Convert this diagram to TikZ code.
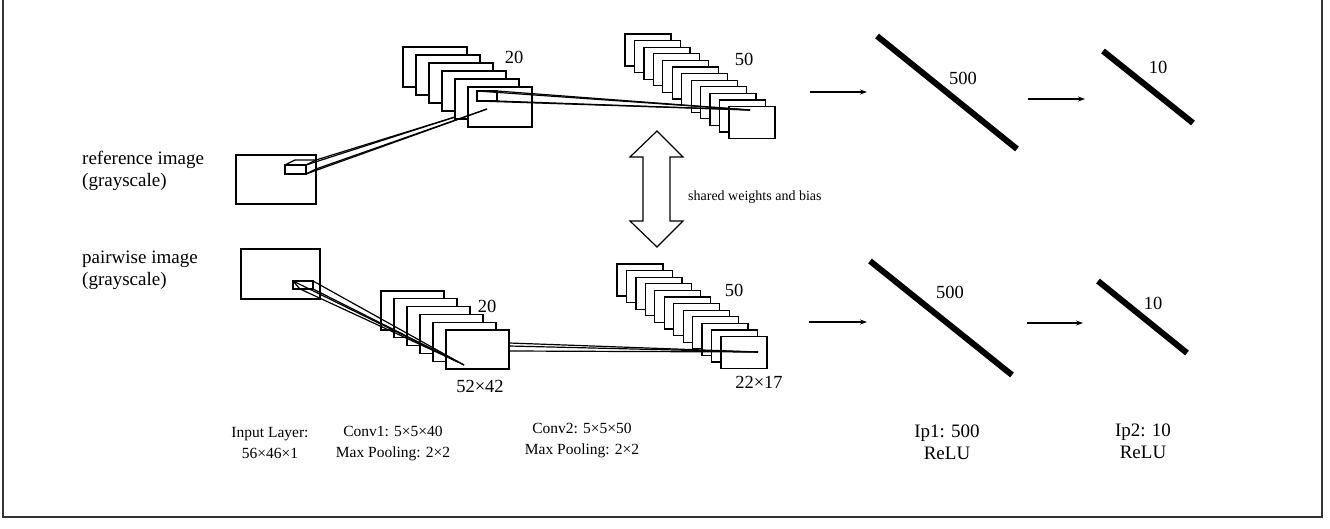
\documentclass[tikz,border=0pt]{standalone}
\usepackage{fontspec}
\setmainfont{Liberation Serif}
\usetikzlibrary{arrows.meta}
\begin{document}
\begin{tikzpicture}[x=1pt,y=-1pt,
  thin line/.style={line width=1.2pt,black},
  fmap/.style={thin line,fill=white},
  fc/.style={line width=6pt,black},
  flow/.style={line width=1.1pt,-{Stealth[length=7pt,width=5pt]}},
  lbl/.style={font=\fontsize{15.5}{21}\selectfont,inner sep=0pt,align=center},
  big/.style={lbl,font=\fontsize{19}{22}\selectfont},
  num/.style={lbl,font=\fontsize{18.5}{22}\selectfont},
  frame/.style={line width=1.4pt,black!80}]
\useasboundingbox (0,0) rectangle (1330,529);
\draw[frame] (3,0) -- (3,517) -- (1322,517) -- (1322,0);

% ---------------- upper branch ----------------
\node[big,align=left,anchor=west] (reftxt) at (82,171) {reference image\\(grayscale)};
\draw[thin line] (236,155) rectangle (316,204);
% receptive field box in the input
\coordinate (ra) at (285,165); \coordinate (rb) at (306,174);
\draw[thin line] (ra) rectangle (rb);
\draw[thin line] (295,160) -- (316,160) -- (316,169) -- (306,174);
\draw[thin line] (285,165) -- (295,160); \draw[thin line] (306,165) -- (316,160);
% conv1 maps
\foreach \i in {0,...,5}
  \draw[fmap] ({403+13*\i},{47+8*\i}) rectangle ++(64,40);
\node[num] (c1n) at (514,57) {20};
\coordinate (c1t) at (455,117);
\coordinate (c1u) at (487,109);
\draw[thin line] (306,165) -- (c1t);
\draw[thin line] (316,160) -- (c1t);
\draw[thin line] (306,174) -- (c1u);
\draw[thin line] (316,169) -- (c1u);
% patch on first conv1 map
\draw[thin line] (477,91) rectangle (497,101);
% conv2 maps
\foreach \i in {0,...,11}
  \draw[fmap] ({625+9.45*\i},{34+6.6*\i}) rectangle ++(46,32);
\node[num] (c2n) at (744,59) {50};
\coordinate (c2t) at (750,110);
\draw[thin line] (477,91) -- (c2t);
\draw[thin line] (497,91) -- (c2t);
\draw[thin line] (477,101) -- (c2t);
\draw[thin line] (497,101) -- (c2t);
% fully connected layers
\draw[flow] (810,92) -- (867,92);
\draw[fc] (877,36) -- (1017,149);
\node[num] (f1t) at (963,78) {500};
\draw[flow] (1028,99) -- (1085,99);
\draw[fc] (1103,51) -- (1193,123);
\node[num] (f2t) at (1158,67) {10};

% ---------------- shared weights ----------------
\draw[thin line,fill=white] (657,131) -- (683,157) -- (670,157) -- (670,221) -- (683,221)
  -- (657,247) -- (630,221) -- (643,221) -- (643,157) -- (630,157) -- cycle;
\node[lbl,font=\fontsize{14}{18}\selectfont,anchor=west] (shared) at (688,197) {shared weights and bias};

% ---------------- lower branch ----------------
\node[big,align=left,anchor=west] (pairtxt) at (82,270) {pairwise image\\(grayscale)};
\draw[thin line] (241,249) rectangle (320,299);
\draw[thin line] (293,281) rectangle (313,289);
\draw[thin line] (293,281) -- (300,289);
\foreach \i in {0,...,5}
  \draw[fmap] ({381+13*\i},{291+7.8*\i}) rectangle ++(63,39);
\node[num] (c1bn) at (487,306) {20};
\node[num] (c1bs) at (480,386) {52×42};
\coordinate (c1b) at (464,365);
\coordinate (c1c) at (458,362);
\draw[thin line] (313,281) -- (c1b);
\draw[thin line] (313,289) -- (c1b);
\draw[thin line] (300,289) -- (c1c);
\draw[thin line] (293,281) -- (c1c);
\foreach \i in {0,...,11}
  \draw[fmap] ({617+9.45*\i},{264+6.6*\i}) rectangle ++(46,32);
\node[num] (c2bn) at (734,290) {50};
\node[num] (c2bs) at (759,382) {22×17};
\coordinate (c2b) at (758,352);
\draw[thin line] (509,343) -- (c2b);
\draw[thin line] (509,346) -- (c2b);
\draw[thin line] (509,351) -- (c2b);
\draw[flow] (809,322) -- (867,322);
\draw[fc] (870,261) -- (1012,375);
\node[num] (f1b) at (950,292) {500};
\draw[flow] (1027,323) -- (1083,323);
\draw[fc] (1098,281) -- (1187,353);
\node[num] (f2b) at (1153,303) {10};

% ---------------- layer captions ----------------
\node[lbl] (capin) at (270,443) {Input Layer:\\56×46×1};
\node[lbl] (capc1) at (393,444) {Conv1: 5×5×40\\Max Pooling: 2×2};
\node[lbl] (capc2) at (582,441) {Conv2: 5×5×50\\Max Pooling: 2×2};
\node[big] (capf1) at (947,442) {Ip1: 500\\ReLU};
\node[big] (capf2) at (1143,441) {Ip2: 10\\ReLU};
\end{tikzpicture}
\end{document}
